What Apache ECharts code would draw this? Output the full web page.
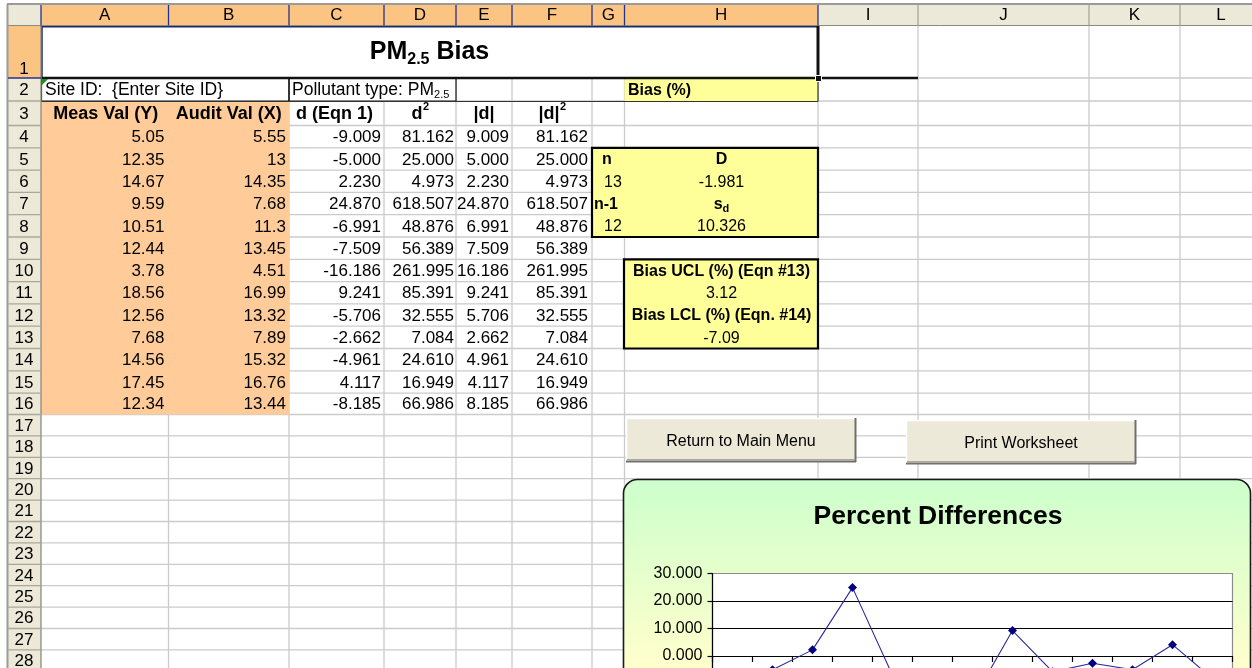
<!DOCTYPE html>
<html>
<head>
<meta charset="utf-8">
<script src="https://cdn.jsdelivr.net/npm/echarts@6/dist/echarts.min.js"></script>
<style>
html,body{margin:0;padding:0;background:#fff;}
#c{width:1252px;height:668px;}
</style>
</head>
<body>
<div id="c"></div>
<script>
// ---------------- DATA ----------------
const categories = ['1','2','3','4','5','6','7','8','9','10','11','12','13'];
const measVals  = [5.05, 12.35, 14.67, 9.59, 10.51, 12.44, 3.78, 18.56, 12.56, 7.68, 14.56, 17.45, 12.34];
const auditVals = [5.55, 13, 14.35, 7.68, 11.3, 13.45, 4.51, 16.99, 13.32, 7.89, 15.32, 16.76, 13.44];
const dVals     = [-9.009, -5.000, 2.230, 24.870, -6.991, -7.509, -16.186, 9.241, -5.706, -2.662, -4.961, 4.117, -8.185];
const d2Vals    = [81.162, 25.000, 4.973, 618.507, 48.876, 56.389, 261.995, 85.391, 32.555, 7.084, 24.610, 16.949, 66.986];
const absDVals  = [9.009, 5.000, 2.230, 24.870, 6.991, 7.509, 16.186, 9.241, 5.706, 2.662, 4.961, 4.117, 8.185];
const absD2Vals = [81.162, 25.000, 4.973, 618.507, 48.876, 56.389, 261.995, 85.391, 32.555, 7.084, 24.610, 16.949, 66.986];
const nCount = 13;
const nMinus1 = 12;
const meanD = -1.981;
const sdD = 10.326;
const biasUCL = '3.12';
const biasLCL = '-7.09';
const colLetters = ['A','B','C','D','E','F','G','H','I','J','K','L'];
const rowNumbers = Array.from({length: 28}, (_, i) => String(i + 1));
const yAxisMin = -20, yAxisMax = 30, yAxisStep = 10;

// ---------------- LAYOUT ----------------
const FF = '"Liberation Sans", Arial, Helvetica, sans-serif';
const colX = [7, 41, 168.5, 289, 384, 456, 512, 592, 624.5, 818, 918, 1089, 1180, 1262];
const rowTops = [26, 78, 101, 125.5, 147.8, 170.1, 192.4, 214.7, 237, 259.3, 281.6, 303.9, 326.2, 348.5,
                 370.8, 393.1, 414.5, 435.9, 457.3, 478.7, 500.1, 521.5, 542.9, 564.3, 585.7, 607.1, 628.5, 649.9, 671.3];
const rowMid = r => (rowTops[r - 1] + rowTops[r]) / 2 + 1;

const G = [];
const cv = document.createElement('canvas').getContext('2d');
function tw(t, font) { cv.font = font; return cv.measureText(t).width; }
function rect(x, y, w, h, fill, stroke, lw, z, r) {
  G.push({type: 'rect', z: (z == null ? 2 : z), silent: true,
    shape: {x: x, y: y, width: w, height: h, r: r || 0},
    style: {fill: fill || 'none', stroke: stroke || 'none', lineWidth: lw || 0}});
}
function line(x1, y1, x2, y2, color, lw, z) {
  G.push({type: 'line', z: (z == null ? 1 : z), silent: true,
    shape: {x1: x1, y1: y1, x2: x2, y2: y2},
    style: {stroke: color, lineWidth: lw || 1}});
}
function text(t, x, y, font, align, z, fill) {
  G.push({type: 'text', z: (z == null ? 4 : z), silent: true, x: x, y: y,
    style: {text: t, font: font, fill: fill || '#000', align: align || 'left', verticalAlign: 'middle'}});
}
const F_REG = '17px ' + FF;
const F_BOLD_H = 'bold 18px ' + FF;
const F_BOX = '16px ' + FF;
const F_BOX_B = 'bold 16px ' + FF;

// gridlines
const GRID_C = '#cbcbcb';
for (let r = 1; r <= 28; r++) line(41, rowTops[r], 1252, rowTops[r], GRID_C, 1.3, 1);
for (let c = 2; c <= 12; c++) line(colX[c], 26, colX[c], 668, GRID_C, 1.3, 1);

// fills
rect(41, 26, 777, 52, '#ffffff', null, 0, 2);            // merged A1:H1
rect(41, 78, 248, 23, '#ffffff', null, 0, 2);            // A2:B2
rect(289, 78, 167, 23, '#ffffff', null, 0, 2);           // C2:D2
rect(624.5, 78, 193.5, 23, '#FFFF99', null, 0, 2);       // H2
rect(41, 101, 248, rowTops[16] - 101, '#FFCC99', null, 0, 2); // A3:B16
rect(592, rowTops[4], 226, rowTops[8] - rowTops[4], '#FFFF99', '#000', 2.2, 3); // G5:H8
rect(624, rowTops[9], 194, rowTops[13] - rowTops[9], '#FFFF99', '#000', 2.2, 3); // H10:H13

// row 2 borders
rect(41.5, 78, 247.5, 23, 'none', '#111', 1.2, 3);
rect(289, 78, 167, 23, 'none', '#111', 1.2, 3);
line(41, 101.5, 818, 101.5, '#333', 1.2, 3);
line(818, 78, 818, 101.5, '#333', 1.2, 3);
G.push({type: 'polygon', z: 4, silent: true, shape: {points: [[42, 79], [48, 79], [42, 85]]}, style: {fill: '#1f8f1f'}});

// row 1 selection / thick borders
line(41, 26.5, 818, 26.5, '#1b2a6b', 2, 3);
line(41.5, 26, 41.5, 78, '#1b2a6b', 2.5, 3);
line(818, 26, 818, 79, '#111', 3, 3);
line(41, 78, 918, 78, '#111', 2.5, 3);
rect(815.5, 75.5, 6, 6, '#111', '#fff', 1, 4);

// ---- texts of the sheet ----
(function () {
  const fm = 'bold 25px ' + FF, fs = 'bold 16px ' + FF;
  const w1 = tw('PM', fm), w2 = tw('2.5', fs), w3 = tw(' Bias', fm);
  const x0 = 429.5 - (w1 + w2 + w3) / 2;
  text('PM', x0, 52, fm);
  text('2.5', x0 + w1, 59.5, fs);
  text(' Bias', x0 + w1 + w2, 52, fm);
})();
text('Site ID:  {Enter Site ID}', 45, 90.5, '17.5px ' + FF);
(function () {
  const t = 'Pollutant type: PM';
  const f = '17.5px ' + FF;
  const w = tw(t, f);
  text(t, 292, 90.5, f);
  text('2.5', 292 + w, 95, '11px ' + FF);
})();
text('Bias (%)', 628, 90.5, F_BOX_B);

const r3 = rowMid(3);
text('Meas Val (Y)', (colX[1] + colX[2]) / 2 + 1, r3, F_BOLD_H, 'center');
text('Audit Val (X)', (colX[2] + colX[3]) / 2, r3, F_BOLD_H, 'center');
text('d (Eqn 1)', (colX[3] + colX[4]) / 2 - 2, r3, F_BOLD_H, 'center');
function supText(base, sup, cx, cy) {
  const wb = tw(base, F_BOLD_H), fs = 'bold 11px ' + FF, ws = tw(sup, fs);
  const x0 = cx - (wb + ws) / 2;
  text(base, x0, cy, F_BOLD_H);
  text(sup, x0 + wb + 0.5, cy - 7, fs);
}
supText('d', '2', (colX[4] + colX[5]) / 2, r3);
text('|d|', (colX[5] + colX[6]) / 2, r3, F_BOLD_H, 'center');
supText('|d|', '2', (colX[6] + colX[7]) / 2, r3);

for (let i = 0; i < measVals.length; i++) {
  const y = rowMid(4 + i);
  text(String(measVals[i]), colX[2] - 4, y, F_REG, 'right');
  text(String(auditVals[i]), colX[3] - 3, y, F_REG, 'right');
  text(dVals[i].toFixed(3), colX[4] - 3, y, F_REG, 'right');
  text(d2Vals[i].toFixed(3), colX[5] - 2, y, F_REG, 'right');
  text(absDVals[i].toFixed(3), colX[6] - 3, y, F_REG, 'right');
  text(absD2Vals[i].toFixed(3), colX[7] - 4, y, F_REG, 'right');
}

const hc = 721.5;
text('n', 602, rowMid(5), F_BOX_B);
text('D', hc, rowMid(5), F_BOX_B, 'center');
text(String(nCount), 604, rowMid(6), F_BOX);
text(meanD.toFixed(3), hc, rowMid(6), F_BOX, 'center');
text('n-1', 594, rowMid(7), F_BOX_B);
(function () {
  const fs = 'bold 11px ' + FF;
  const w1 = tw('s', F_BOX_B), w2 = tw('d', fs);
  const x0 = hc - (w1 + w2) / 2;
  text('s', x0, rowMid(7), F_BOX_B);
  text('d', x0 + w1, rowMid(7) + 4, fs);
})();
text(String(nMinus1), 604, rowMid(8), F_BOX);
text(sdD.toFixed(3), hc, rowMid(8), F_BOX, 'center');
text('Bias UCL (%) (Eqn #13)', hc, rowMid(10), F_BOX_B, 'center');
text(biasUCL, hc, rowMid(11), F_BOX, 'center');
text('Bias LCL (%) (Eqn. #14)', hc, rowMid(12), F_BOX_B, 'center');
text(biasLCL, hc, rowMid(13), F_BOX, 'center');

// ---- column header row ----
rect(7, 4, 1252 - 7, 22, '#ECE9D8', null, 0, 5);
rect(41, 4, 818 - 41, 22, '#FCC482', null, 0, 5);
line(7, 4, 1252, 4, '#9a9a9a', 2, 6);
line(7, 25.5, 1252, 25.5, '#8a8a80', 1, 6);
for (let c = 1; c <= 12; c++) {
  const x = colX[c + 1];
  const col = (c <= 8) ? '#24348a' : '#aca899';
  line(x, 5, x, 25.5, col, 1.3, 6);
  text(colLetters[c - 1], (colX[c] + colX[c + 1]) / 2, 15.5, '17px ' + FF, 'center', 7);
}
line(41, 5, 41, 25.5, '#24348a', 1.3, 6);
// ---- row header column ----
rect(7, 26, 34, 668 - 26, '#ECE9D8', null, 0, 5);
rect(7, 26, 34, 52, '#FCC482', null, 0, 5);
line(7.5, 4, 7.5, 668, '#9a9a9a', 2, 6);
line(41, 26, 41, 668, '#8a8a80', 1.3, 6);
for (let r = 1; r <= 28; r++) {
  line(8, rowTops[r], 41, rowTops[r], r === 1 ? '#24348a' : '#aca899', 1.3, 6);
  const y = r === 1 ? 69 : rowMid(r);
  text(rowNumbers[r - 1], 24, y, '17px ' + FF, 'center', 7);
}

// ---- buttons ----
function button(x, y, w, h, label) {
  rect(x, y, w, h, '#ECE9D8', null, 0, 6);
  line(x, y + 0.5, x + w, y + 0.5, '#ffffff', 1.5, 6);
  line(x + 0.5, y, x + 0.5, y + h, '#ffffff', 1.5, 6);
  line(x, y + h - 0.5, x + w, y + h - 0.5, '#6f6f6f', 2, 6);
  line(x + w - 0.5, y, x + w - 0.5, y + h, '#6f6f6f', 2, 6);
  line(x + 1, y + h - 2.5, x + w - 1, y + h - 2.5, '#aca899', 1, 6);
  text(label, x + w / 2, y + h / 2 + 1.5, '16px ' + FF, 'center', 7);
}
button(626, 418, 230, 44, 'Return to Main Menu');
button(906, 420, 230, 44, 'Print Worksheet');

// ---- chart frame ----
G.push({type: 'rect', z: 6, silent: true,
  shape: {x: 623.5, y: 479.5, width: 627, height: 260, r: 14},
  style: {fill: new echarts.graphic.LinearGradient(0, 0, 0, 1, [
      {offset: 0, color: '#CCFFCC'}, {offset: 0.72, color: '#FFFFCC'}, {offset: 1, color: '#FFFFCC'}]),
    stroke: '#1a1a1a', lineWidth: 1.6}});
text('Percent Differences', 938, 516.5, 'bold 26.5px ' + FF, 'center', 9);

// ---------------- CHART ----------------
const chart = echarts.init(document.getElementById('c'), null, {renderer: 'canvas'});
chart.setOption({
  animation: false,
  backgroundColor: '#ffffff',
  graphic: {elements: G},
  grid: {
    left: 712.5, top: 573.5, width: 520, height: 137.5,
    containLabel: false, outerBoundsMode: 'none',
    show: true, backgroundColor: '#ffffff', borderColor: '#8c8c8c', borderWidth: 1.2, z: 7
  },
  xAxis: {
    type: 'category', data: categories, boundaryGap: true, z: 8,
    axisLine: {show: true, onZero: true, lineStyle: {color: '#000', width: 1.2}},
    axisTick: {show: true, length: 6, inside: false, lineStyle: {color: '#000', width: 1.2}},
    axisLabel: {show: false},
    splitLine: {show: false}
  },
  yAxis: {
    type: 'value', min: yAxisMin, max: yAxisMax, interval: yAxisStep, z: 8,
    axisLine: {show: true, lineStyle: {color: '#000', width: 1.2}},
    axisTick: {show: true, length: 5, lineStyle: {color: '#000', width: 1.2}},
    axisLabel: {formatter: v => v.toFixed(3), color: '#000', fontSize: 16, fontFamily: FF, margin: 10},
    splitLine: {show: true, showMaxLine: false, lineStyle: {color: '#000', width: 1.2}}
  },
  series: [{
    type: 'line', data: dVals, z: 9,
    symbol: 'diamond', symbolSize: 9, showSymbol: true,
    itemStyle: {color: '#000080'},
    lineStyle: {color: '#2a2a9c', width: 1.1}
  }]
});
</script>
</body>
</html>
